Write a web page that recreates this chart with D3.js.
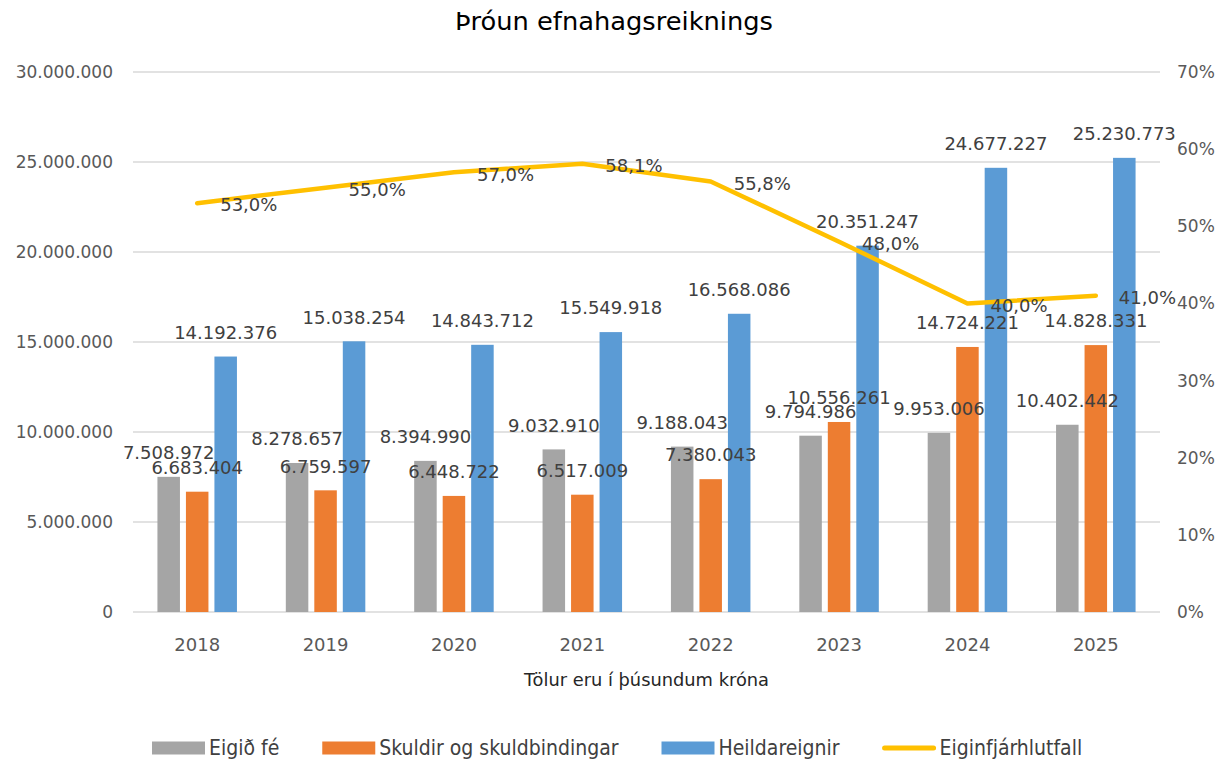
<!DOCTYPE html>
<html>
<head>
<meta charset="utf-8">
<script src="https://cdn.jsdelivr.net/npm/d3@7"></script>
<style>
  html, body { margin: 0; padding: 0; background: #fff; }
  svg { display: block; }
</style>
</head>
<body>
<svg id="chart" width="1227" height="759"></svg>
<script>
// ---- data ----
const years = ["2018", "2019", "2020", "2021", "2022", "2023", "2024", "2025"];
const eigidFe = [7508972, 8278657, 8394990, 9032910, 9188043, 9794986, 9953006, 10402442];
const skuldir = [6683404, 6759597, 6448722, 6517009, 7380043, 10556261, 14724221, 14828331];
const heildareignir = [14192376, 15038254, 14843712, 15549918, 16568086, 20351247, 24677227, 25230773];
const eiginfjarhlutfall = [53.0, 55.0, 57.0, 58.1, 55.8, 48.0, 40.0, 41.0];
const leftTicks = [0, 5000000, 10000000, 15000000, 20000000, 25000000, 30000000];
const rightTicks = [0, 10, 20, 30, 40, 50, 60, 70];
const seriesNames = ["Eigið fé", "Skuldir og skuldbindingar", "Heildareignir"];
const lineName = "Eiginfjárhlutfall";
const title = "Þróun efnahagsreiknings";
const xTitle = "Tölur eru í þúsundum króna";

// ---- styles / layout ----
const colors = ["#A5A5A5", "#ED7D31", "#5B9BD5"];
const lineColor = "#FFC000";
const margin = { left: 133, right: 1160, top: 72, bottom: 612 };
const numFont = "'DejaVu Sans', sans-serif";
const legendFont = "'Liberation Sans Narrow', 'DejaVu Sans Condensed', sans-serif";

const loc = d3.formatLocale({ decimal: ",", thousands: ".", grouping: [3], currency: ["", ""] });
const fmtNum = loc.format(",d");
const fmtPct = v => loc.format(",.1f")(v) + "%";
const fmtTickPct = v => v + "%";

const svg = d3.select("#chart");

const x0 = d3.scaleBand().domain(years).range([margin.left, margin.right]).padding(0);
const x1 = d3.scaleBand().domain(seriesNames).range([-39.75, 39.75]).paddingInner(0.21).paddingOuter(0);
const yL = d3.scaleLinear().domain([0, 30000000]).range([margin.bottom, margin.top]);
const yR = d3.scaleLinear().domain([0, 70]).range([margin.bottom, margin.top]);

// gridlines
svg.append("g").selectAll("line").data(leftTicks).join("line")
  .attr("x1", margin.left).attr("x2", margin.right)
  .attr("y1", d => yL(d)).attr("y2", d => yL(d))
  .attr("stroke", "#d9d9d9").attr("stroke-width", 1.5);

// left axis
const gl = svg.append("g").attr("transform", `translate(${margin.left},0)`)
  .call(d3.axisLeft(yL).tickValues(leftTicks).tickSize(0).tickPadding(20).tickFormat(fmtNum));
gl.select(".domain").remove();
gl.selectAll("text").attr("font-family", numFont).attr("font-size", 17).attr("fill", "#595959");

// right axis
const gr = svg.append("g").attr("transform", `translate(${margin.right},0)`)
  .call(d3.axisRight(yR).tickValues(rightTicks).tickSize(0).tickPadding(17).tickFormat(fmtTickPct));
gr.select(".domain").remove();
gr.selectAll("text").attr("font-family", numFont).attr("font-size", 17).attr("fill", "#595959");

// bottom axis
const gb = svg.append("g").attr("transform", `translate(0,${margin.bottom})`)
  .call(d3.axisBottom(x0).tickSize(0).tickPadding(26));
gb.select(".domain").remove();
gb.selectAll("text").attr("font-family", numFont).attr("font-size", 18).attr("fill", "#595959");

// bars
const seriesData = [eigidFe, skuldir, heildareignir];
const barG = svg.append("g");
seriesData.forEach((vals, si) => {
  const name = seriesNames[si];
  barG.append("g").selectAll("rect").data(vals).join("rect")
    .attr("x", (d, i) => x0(years[i]) + x0.bandwidth() / 2 + x1(name))
    .attr("y", d => yL(d))
    .attr("width", x1.bandwidth())
    .attr("height", d => yL(0) - yL(d))
    .attr("fill", colors[si]);
});

// line
const line = d3.line()
  .x((d, i) => x0(years[i]) + x0.bandwidth() / 2)
  .y(d => yR(d));
svg.append("path").datum(eiginfjarhlutfall)
  .attr("d", line).attr("fill", "none")
  .attr("stroke", lineColor).attr("stroke-width", 4.5)
  .attr("stroke-linecap", "round").attr("stroke-linejoin", "round");

// bar labels
const labG = svg.append("g");
seriesData.forEach((vals, si) => {
  const name = seriesNames[si];
  labG.append("g").selectAll("text").data(vals).join("text")
    .attr("x", (d, i) => x0(years[i]) + x0.bandwidth() / 2 + x1(name) + x1.bandwidth() / 2)
    .attr("y", d => yL(d) - 24)
    .attr("dy", "0.35em")
    .attr("text-anchor", "middle")
    .attr("font-family", numFont).attr("font-size", 18).attr("fill", "#404040")
    .text(d => fmtNum(d));
});

// line labels
labG.append("g").selectAll("text").data(eiginfjarhlutfall).join("text")
  .attr("x", (d, i) => x0(years[i]) + x0.bandwidth() / 2 + 23)
  .attr("y", d => yR(d) + 2)
  .attr("dy", "0.35em")
  .attr("font-family", numFont).attr("font-size", 18).attr("fill", "#404040")
  .text(d => fmtPct(d));

// title
svg.append("text").attr("x", 614).attr("y", 22).attr("dy", "0.35em")
  .attr("text-anchor", "middle")
  .attr("font-family", "'DejaVu Sans', sans-serif").attr("font-size", 24).attr("fill", "#000")
  .attr("textLength", 318).attr("lengthAdjust", "spacingAndGlyphs")
  .text(title);

// x axis title
svg.append("text").attr("x", (margin.left + margin.right) / 2).attr("y", 680).attr("dy", "0.35em")
  .attr("text-anchor", "middle")
  .attr("font-family", "'DejaVu Sans', sans-serif").attr("font-size", 17).attr("fill", "#262626")
  .attr("textLength", 245).attr("lengthAdjust", "spacingAndGlyphs")
  .text(xTitle);

// legend
const legendItems = [
  { name: seriesNames[0], color: colors[0], type: "rect" },
  { name: seriesNames[1], color: colors[1], type: "rect" },
  { name: seriesNames[2], color: colors[2], type: "rect" },
  { name: lineName, color: lineColor, type: "line" }
];
const legY = 748;
const legG = svg.append("g");
let lx = 152;
legendItems.forEach(it => {
  if (it.type === "rect") {
    legG.append("rect").attr("x", lx).attr("y", legY - 6.5).attr("width", 53).attr("height", 13).attr("fill", it.color);
  } else {
    legG.append("line").attr("x1", lx + 2).attr("x2", lx + 51).attr("y1", legY).attr("y2", legY)
      .attr("stroke", it.color).attr("stroke-width", 5).attr("stroke-linecap", "round");
  }
  const t = legG.append("text").attr("x", lx + 57).attr("y", legY).attr("dy", "0.35em")
    .attr("font-family", legendFont).attr("font-size", 21).attr("fill", "#404040")
    .text(it.name);
  lx += 57 + t.node().getComputedTextLength() + 43;
});
</script>
</body>
</html>
